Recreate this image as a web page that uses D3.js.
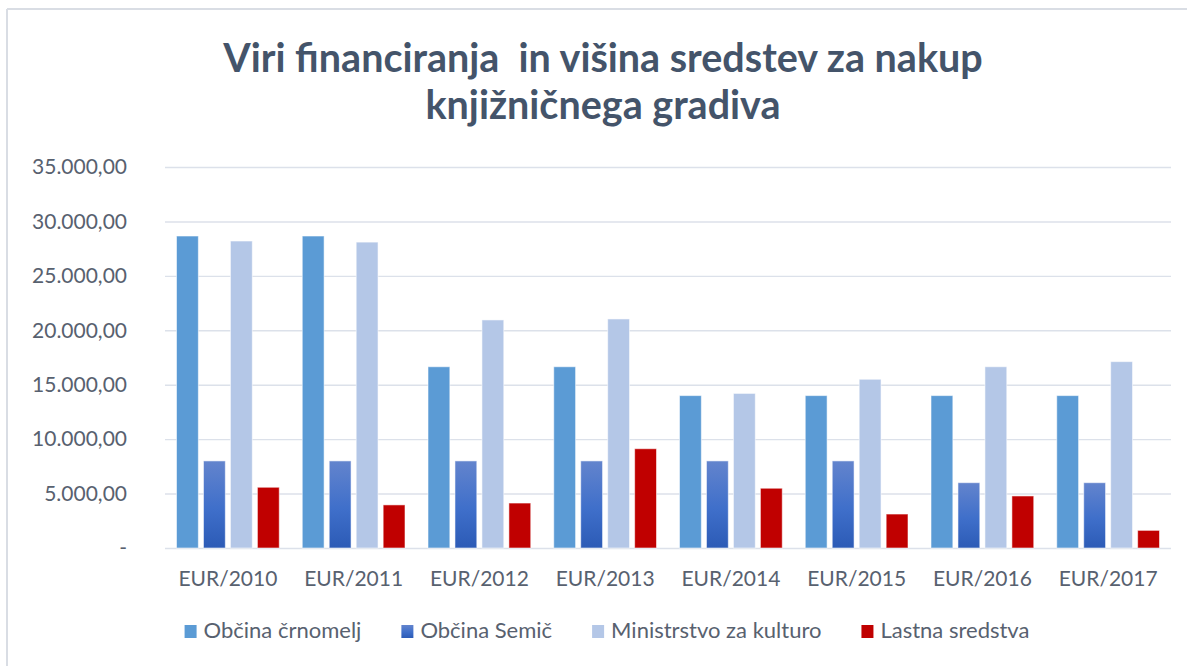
<!DOCTYPE html>
<html>
<head>
<meta charset="utf-8">
<script src="https://cdn.jsdelivr.net/npm/d3@7"></script>
<style>
  body { margin: 0; background: #fff; }
  svg { display: block; font-family: Lato, "Open Sans", sans-serif; }
</style>
</head>
<body>
<svg id="chart" width="1187" height="666"></svg>
<script>
// Data
const categories = ["EUR/2010", "EUR/2011", "EUR/2012", "EUR/2013", "EUR/2014", "EUR/2015", "EUR/2016", "EUR/2017"];
const seriesNames = ["Občina črnomelj", "Občina Semič", "Ministrstvo za kulturo", "Lastna sredstva"];
const obcinaCrnomelj = [28660, 28660, 16650, 16650, 14000, 14000, 14000, 14000];
const obcinaSemic = [8000, 8000, 8000, 8000, 8000, 8000, 6000, 6000];
const ministrstvo = [28200, 28100, 20950, 21040, 14200, 15500, 16650, 17120];
const lastnaSredstva = [5580, 3960, 4130, 9120, 5490, 3120, 4780, 1620];
const yTicks = [0, 5000, 10000, 15000, 20000, 25000, 30000, 35000];
const titleLines = ["Viri financiranja  in višina sredstev za nakup", "knjižničnega gradiva"];

const seriesValues = [obcinaCrnomelj, obcinaSemic, ministrstvo, lastnaSredstva];
const fills = ["#5b9bd5", "url(#semicGrad)", "#b4c7e7", "#c00000"];

const svg = d3.select("#chart");
const width = +svg.attr("width");

// gradient for Semič bars
const defs = svg.append("defs");
const grad = defs.append("linearGradient")
    .attr("id", "semicGrad")
    .attr("x1", 0).attr("y1", 0).attr("x2", 0).attr("y2", 1);
grad.append("stop").attr("offset", "0%").attr("stop-color", "#6384cd");
grad.append("stop").attr("offset", "55%").attr("stop-color", "#3f6fca");
grad.append("stop").attr("offset", "100%").attr("stop-color", "#2c5bb6");

// chart frame (only top + left edges are visible)
svg.append("line").attr("x1", 7).attr("y1", 9).attr("x2", width).attr("y2", 9)
    .attr("stroke", "#d9dde4").attr("stroke-width", 2);
svg.append("line").attr("x1", 7).attr("y1", 9).attr("x2", 7).attr("y2", 666)
    .attr("stroke", "#d9dde4").attr("stroke-width", 2);

// title
svg.append("g").selectAll("text")
    .data(titleLines)
    .join("text")
    .attr("x", 603)
    .attr("y", (d, i) => 72 + i * 47)
    .attr("text-anchor", "middle")
    .attr("font-size", "39.5px")
    .attr("font-weight", "bold")
    .attr("fill", "#44546a")
    .style("white-space", "pre")
    .text(d => d);

// scales
const plotLeft = 165, plotRight = 1171, plotTop = 167, plotBottom = 548;

const y = d3.scaleLinear().domain([0, 35000]).range([plotBottom, plotTop]);
const x = d3.scaleBand().domain(categories).range([plotLeft, plotRight]);
const xInner = d3.scaleBand()
    .domain(seriesNames)
    .range([11.5, x.bandwidth() - 11.5])
    .paddingInner(0.19);

const locale = d3.formatLocale({ decimal: ",", thousands: ".", grouping: [3], currency: ["", "€"] });
const fmt = locale.format(",.2f");

// y axis with gridlines
const yAxis = svg.append("g")
    .attr("transform", `translate(${plotLeft},0)`)
    .call(d3.axisLeft(y)
        .tickValues(yTicks)
        .tickSize(-(plotRight - plotLeft))
        .tickPadding(38)
        .tickFormat(d => d === 0 ? "-" : fmt(d)));
yAxis.select(".domain").remove();
yAxis.selectAll("line").attr("stroke", "#dce1ea").attr("stroke-width", 1.4);
yAxis.selectAll("text")
    .attr("font-family", "Lato, 'Open Sans', sans-serif")
    .attr("font-size", "21px")
    .attr("fill", "#58616f");

// bars
const groups = svg.append("g").selectAll("g")
    .data(categories)
    .join("g")
    .attr("transform", d => `translate(${x(d)},0)`);

groups.selectAll("rect")
    .data((d, ci) => seriesNames.map((s, si) => ({ series: s, si: si, value: seriesValues[si][ci] })))
    .join("rect")
    .attr("x", d => xInner(d.series))
    .attr("width", xInner.bandwidth())
    .attr("y", d => y(d.value))
    .attr("height", d => y(0) - y(d.value))
    .attr("fill", d => fills[d.si])
    .attr("stroke", "rgba(255,255,255,0.55)")
    .attr("stroke-width", 1);

// x axis labels
const xAxis = svg.append("g")
    .attr("transform", `translate(0,${plotBottom})`)
    .call(d3.axisBottom(x).tickSize(0).tickPadding(23));
xAxis.select(".domain").remove();
xAxis.selectAll("text")
    .attr("font-family", "Lato, 'Open Sans', sans-serif")
    .attr("font-size", "21px")
    .attr("fill", "#58616f");

// legend
const legend = svg.append("g");
const items = legend.selectAll("g")
    .data(seriesNames)
    .join("g");
items.append("rect")
    .attr("width", 12)
    .attr("height", 13)
    .attr("y", -13)
    .attr("fill", (d, i) => fills[i]);
items.append("text")
    .attr("x", 19)
    .attr("font-size", "22px")
    .attr("fill", "#58616f")
    .text(d => d);

// lay items out side by side, centred
let offset = 0;
const widths = [];
items.each(function () {
    const w = 19 + this.querySelector("text").getComputedTextLength();
    widths.push(w);
});
const gap = 40;
const total = d3.sum(widths) + gap * (widths.length - 1);
let start = 607 - total / 2;
items.attr("transform", (d, i) => {
    const t = `translate(${start + offset},638)`;
    offset += widths[i] + gap;
    return t;
});
</script>
</body>
</html>
